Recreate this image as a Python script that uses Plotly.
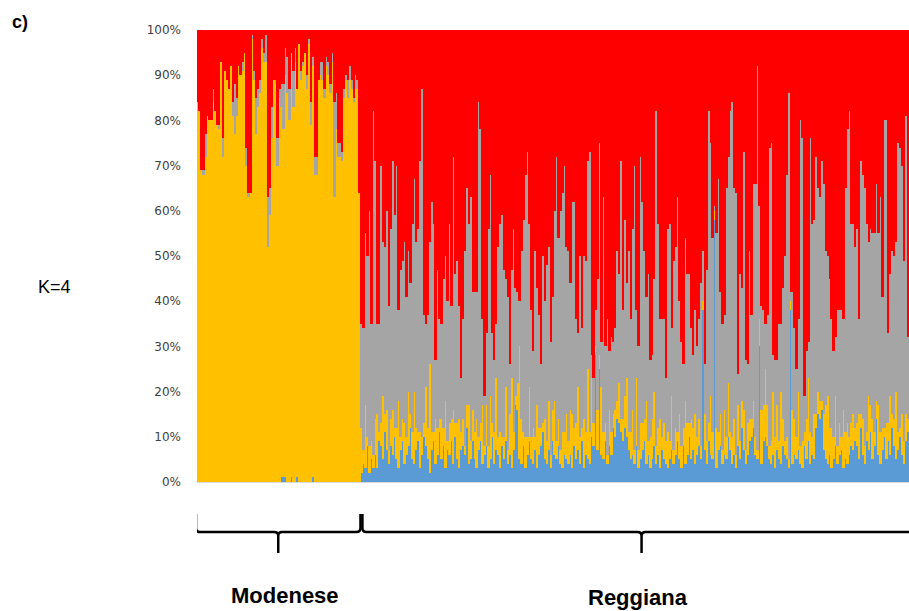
import plotly.graph_objects as go
import numpy as np

# ---- Admixture proportions (%), K=4, one value per individual ----
# Modenese: upper edge of the non-red part, grey share, blue share
mod_top = [84, 82, 69, 69, 77, 81, 80, 80, 87, 82, 79, 79, 93, 76, 91, 89, 87, 92, 84, 88,
           85, 92, 90, 93, 95, 74, 64, 64, 99, 91, 85, 87, 89, 98, 95, 99, 63, 65, 83, 89,
           89, 76, 87, 88, 88,
           96, 94, 87, 95, 91, 96, 87, 97, 91, 93, 95, 90, 98, 84, 94, 72, 72, 89, 93, 93,
           87, 94, 93, 88, 95, 84, 86, 75, 75, 73, 87, 90, 89, 92, 89, 85, 90, 89, 64]
mod_grey = [0, 0, 0, 1, 5, 0, 0, 0, 3, 0, 0, 1, 0, 4, 0, 0, 0, 0, 3, 11,
            4, 0, 0, 2, 0, 4, 1, 0, 1, 2, 8, 4, 3, 2, 2, 6, 11, 6, 7, 0,
            1, 6, 2, 5, 10,
            6, 8, 7, 0, 8, 3, 0, 0, 2, 1, 0, 3, 1, 5, 2, 4, 4, 0, 3, 4,
            2, 2, 3, 2, 2, 21, 8, 3, 3, 2, 2, 1, 4, 3, 2, 1, 3, 2, 0]
mod_blue = [0, 0, 0, 0, 0, 0, 0, 0, 0, 0, 0, 0, 0, 0, 0, 0, 0, 0, 0, 0,
            0, 0, 0, 0, 0, 0, 0, 0, 0, 0, 0, 0, 0, 0, 0, 0, 0, 0, 0, 0,
            0, 0, 0, 1, 1,
            1, 0, 0, 1, 0, 0, 1, 0, 0, 0, 0, 0, 0, 0, 1, 0, 0, 0, 0, 0,
            0, 0, 0, 0, 0, 0, 0, 0, 0, 0, 0, 0, 0, 0, 0, 0, 0, 0, 0]

# Reggiana: upper edge of the non-red part, blue share, yellow share
reg_top = [35, 34, 55, 50, 60, 35, 82,
           71, 35, 35, 70, 53, 52, 60, 39, 56, 71, 59, 70, 38, 47, 49, 53, 41, 51, 44, 57,
           67, 53, 56, 71, 87, 37, 35, 37, 53, 62, 57, 27, 47, 36, 35, 45, 50, 40, 57, 39,
           72, 46, 49, 39, 23, 36, 51, 65, 57, 63, 42,
           42, 42, 84, 78, 36, 19, 33, 56, 68, 33, 27, 35, 52, 57, 59, 47, 45, 41, 26, 47,
           56, 43, 42, 40, 51, 58, 68, 73, 57, 38, 29, 51, 43, 37, 26, 50, 40, 48, 52, 31,
           41, 60, 72, 54, 60, 64, 70, 52,
           51, 44, 62, 62, 36, 33, 50, 34, 50, 49, 71, 73, 28, 23, 38, 45, 75, 31, 63, 30,
           36, 29, 32, 31, 34, 51, 46, 71, 38, 58, 44, 51, 36, 56, 70, 38, 30, 72, 62, 51,
           41, 46, 27, 28, 45, 82, 57, 36, 36, 36, 23,
           56, 57, 34, 49, 52, 63, 40, 31, 26, 54, 46, 46, 34, 28, 38, 30, 36, 44, 51, 26,
           47, 82, 75, 54, 61, 55, 67, 42, 35, 37, 65, 72, 82, 84, 65, 64, 24, 46, 43, 73,
           27, 26, 51, 37, 66,
           66, 92, 61, 39, 38, 35, 37, 74, 75, 28, 27, 27, 35, 35, 43, 50, 68, 86, 42, 42,
           34, 25, 36, 80, 76, 19, 29, 31, 76, 57, 58, 72, 65, 63, 71, 66, 51, 50, 45, 36,
           29, 32, 38, 38, 38, 36, 65, 78, 82, 57, 57, 52,
           56, 36, 71, 68, 65, 57, 53, 56, 55, 55, 66, 55, 63, 41, 80, 80, 33, 46, 51, 50,
           53, 75, 74, 70, 49, 81, 32]
reg_blue = [2, 4, 3, 8, 2, 5, 3,
            6, 3, 9, 8, 5, 11, 7, 4, 8, 6, 10, 5, 3, 7, 9, 4, 6, 8, 12, 5,
            4, 7, 9, 3, 6, 10, 8, 5, 2, 7, 9, 4, 6, 11, 5, 8, 3, 7, 6, 9,
            4, 10, 5, 3, 7, 8, 6, 12, 4, 5, 9,
            5, 3, 7, 9, 4, 6, 8, 3, 5, 10, 4, 7, 6, 3, 8, 5, 9, 4, 6, 3,
            7, 17, 16, 5, 4, 8, 3, 6, 9, 5, 4, 7, 3, 6, 8, 11, 5, 4, 7, 3,
            9, 6, 5, 8, 4, 3, 6, 5,
            4, 6, 3, 8, 5, 7, 4, 9, 3, 6, 5, 4, 10, 8, 28, 7, 25, 6, 5, 9,
            4, 8, 6, 12, 10, 14, 13, 11, 9, 12, 10, 7, 5, 6, 4, 8, 3, 5, 7, 9,
            4, 6, 3, 5, 8, 4, 6, 3, 7, 5, 4,
            3, 5, 7, 4, 6, 9, 5, 3, 8, 4, 6, 10, 5, 7, 4, 6, 8, 5, 38, 7,
            4, 9, 6, 5, 58, 3, 7, 8, 4, 6, 5, 10, 7, 4, 6, 3, 8, 5, 12, 7,
            4, 6, 9, 10, 12,
            6, 5, 30, 4, 9, 10, 8, 5, 4, 6, 3, 7, 5, 4, 8, 6, 5, 3, 38, 4,
            6, 5, 7, 4, 3, 8, 5, 9, 4, 6, 5, 12, 15, 14, 16, 7, 5, 4, 6, 3,
            5, 8, 4, 6, 7, 3, 5, 4, 6, 8, 7, 9,
            8, 5, 12, 6, 4, 9, 7, 11, 5, 8, 14, 6, 4, 7, 10, 5, 9, 6, 12, 8,
            5, 7, 10, 6, 4, 9, 11]
reg_yellow = [10, 3, 14, 2, 6, 4, 3,
              8, 12, 2, 5, 14, 4, 9, 3, 6, 10, 2, 7, 15, 3, 5, 9, 4, 12, 3, 6,
              16, 5, 2, 8, 4, 3, 13, 7, 24, 4, 2, 10, 6, 3, 9, 4, 15, 2, 7, 5,
              12, 3, 8, 11, 4, 6, 2, 5, 13, 4, 7,
              6, 11, 3, 4, 13, 2, 9, 5, 14, 3, 7, 16, 4, 8, 2, 5, 12, 3, 9, 20,
              4, 2, 6, 25, 10, 3, 7, 4, 12, 5, 8, 3, 14, 6, 4, 2, 9, 5, 11, 3,
              7, 12, 4, 6, 3, 8, 5, 10,
              5, 10, 12, 4, 8, 14, 6, 3, 11, 5, 20, 7, 13, 5, 2, 9, 3, 15, 6, 4,
              2, 8, 5, 3, 6, 4, 9, 3, 5, 7, 13, 4, 6, 10, 3, 15, 4, 8, 6, 5,
              14, 3, 7, 9, 12, 4, 6, 11, 3, 8, 5,
              8, 4, 12, 3, 6, 2, 10, 5, 4, 14, 7, 3, 9, 5, 11, 4, 6, 3, 2, 8,
              5, 4, 13, 6, 2, 9, 4, 7, 3, 10, 5, 12, 4, 6, 8, 3, 9, 4, 6, 9,
              3, 7, 5, 4, 6,
              4, 2, 6, 12, 8, 15, 9, 3, 5, 14, 7, 10, 4, 16, 6, 3, 5, 2, 2, 12,
              8, 5, 13, 4, 6, 3, 9, 14, 7, 4, 10, 3, 5, 4, 2, 8, 12, 15, 6, 9,
              5, 11, 4, 7, 3, 13, 6, 9, 4, 5, 8, 3,
              5, 10, 3, 8, 4, 2, 12, 6, 9, 3, 4, 11, 7, 5, 2, 8, 4, 13, 3, 6,
              15, 4, 2, 9, 5, 6, 3]

groups = ["Modenese", "Reggiana"]

# ---- assemble the four ancestry components per individual ----
mod_top_a, mod_grey_a, mod_blue_a = map(np.array, (mod_top, mod_grey, mod_blue))
reg_top_a, reg_blue_a, reg_yellow_a = map(np.array, (reg_top, reg_blue, reg_yellow))

blue = np.concatenate([mod_blue_a, reg_blue_a])
yellow = np.concatenate([mod_top_a - mod_grey_a - mod_blue_a, reg_yellow_a])
grey = np.concatenate([mod_grey_a, reg_top_a - reg_blue_a - reg_yellow_a])
red = 100 - np.concatenate([mod_top_a, reg_top_a])

n_mod = len(mod_top)
N = n_mod + len(reg_top)
x = np.arange(N)

components = [
    ("Cluster 1", blue, "#5B9BD5"),
    ("Cluster 2", yellow, "#FFC000"),
    ("Cluster 3", grey, "#A5A5A5"),
    ("Cluster 4", red, "#FF0000"),
]

fig = go.Figure()
for name, vals, col in components:
    fig.add_trace(go.Bar(x=x, y=vals, name=name, marker=dict(color=col, line=dict(width=0)),
                         hoverinfo="skip"))

# ---- geometry helpers for the group brackets (paper y from pixel rows) ----
W, H = 909, 611
ML, MR, MT, MB = 197, 0, 30, 129
plot_h = H - MT - MB


def py(pix):
    return (H - MB - pix) / plot_h


def brace(x0, x1, xm, r=2.0):
    yTop, yC, yH, yT0, yT = py(514), py(528), py(532), py(536), py(553)
    return (f"M {x0},{yTop} L {x0},{yC} Q {x0},{yH} {x0 + r},{yH} "
            f"L {xm - r},{yH} Q {xm},{yH} {xm},{yT0} L {xm},{yT} "
            f"M {xm},{yT0} Q {xm},{yH} {xm + r},{yH} "
            f"L {x1 - r},{yH} Q {x1},{yH} {x1},{yC} L {x1},{yTop}")


m0, m1 = -1.0, n_mod - 0.7
r0, r1 = n_mod + 0.3, N + 5.5
shapes = [
    dict(type="path", xref="x", yref="paper", path=brace(m0, m1, (m0 + m1) / 2),
         line=dict(color="black", width=2.5)),
    dict(type="path", xref="x", yref="paper", path=brace(r0, r1, (r0 + r1) / 2),
         line=dict(color="black", width=2.5)),
]

annotations = [
    dict(text="<b>c)</b>", x=20, y=22, font=dict(size=18, family="Liberation Sans", color="black")),
    dict(text="K=4", x=54, y=287, font=dict(size=18, family="Liberation Sans", color="black")),
    dict(text=f"<b>{groups[0]}</b>", x=285, y=595, font=dict(size=22, family="Liberation Sans", color="black")),
    dict(text=f"<b>{groups[1]}</b>", x=638, y=597, font=dict(size=22, family="Liberation Sans", color="black")),
]
for a in annotations:
    a.update(xref="paper", yref="paper", showarrow=False, xanchor="center", yanchor="middle")
    a["x"] = (a["x"] - ML) / (W - ML - MR)
    a["y"] = py(a["y"])

fig.update_layout(
    width=W, height=H,
    margin=dict(l=ML, r=MR, t=MT, b=MB),
    barmode="stack", bargap=0,
    showlegend=False,
    plot_bgcolor="white", paper_bgcolor="white",
    shapes=shapes, annotations=annotations,
    xaxis=dict(range=[-0.5, N - 0.5], showticklabels=False, ticks="", showgrid=False,
               zeroline=False, showline=True, linecolor="#D9D9D9", linewidth=1),
    yaxis=dict(range=[0, 100], dtick=10, ticksuffix="%", showgrid=False, zeroline=False,
               ticks="", ticklabelstandoff=15, showline=False,
               tickfont=dict(family="DejaVu Sans", size=12, color="#404040")),
)

fig.write_html("out.html")
